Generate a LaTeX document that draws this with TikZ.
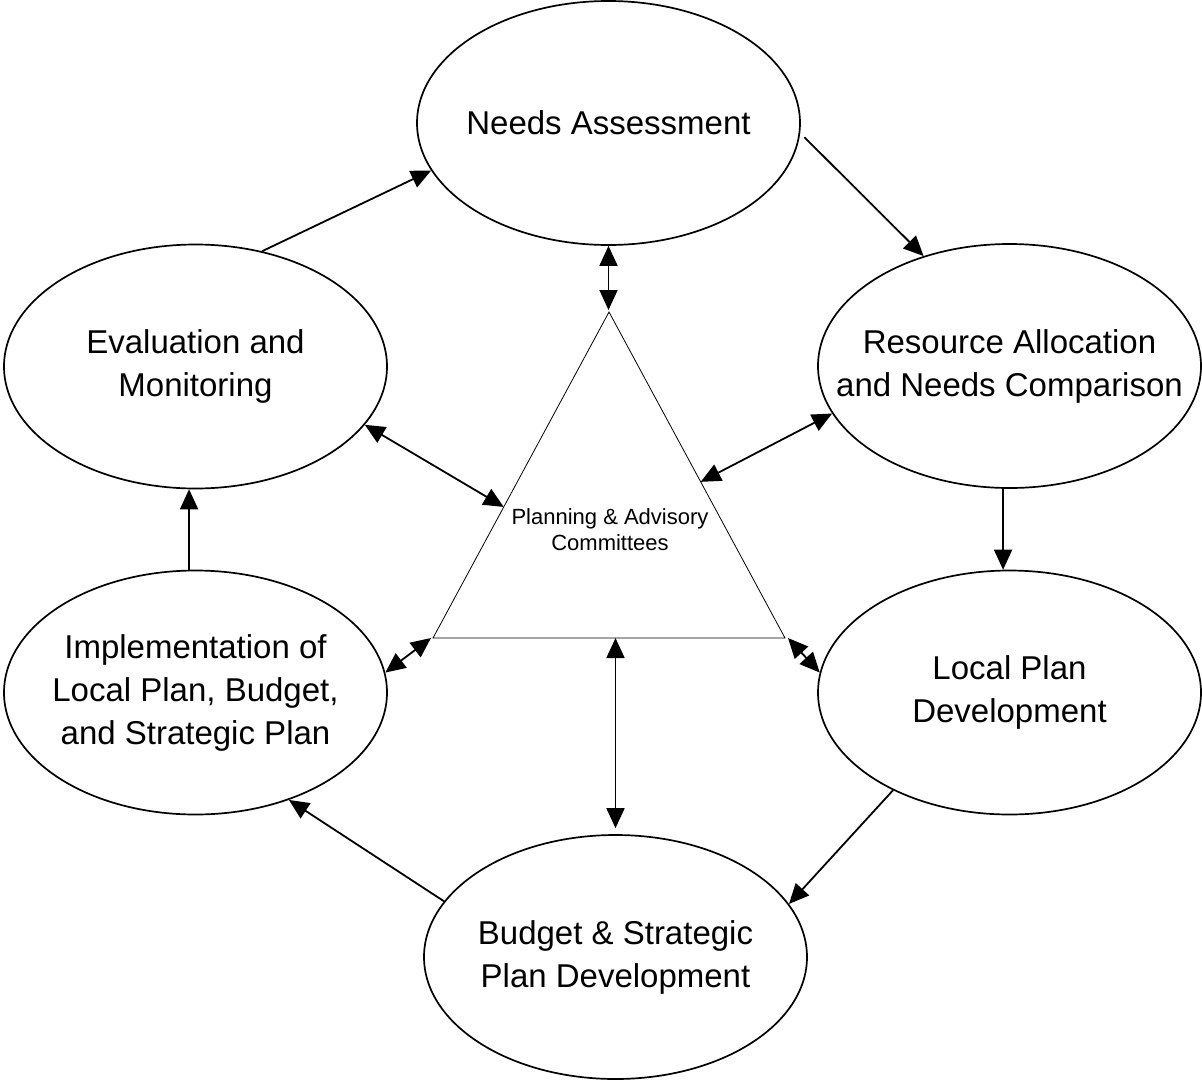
\documentclass[tikz,border=0pt]{standalone}
\usepackage{fontspec}
\setmainfont{Liberation Sans}
\usetikzlibrary{shapes.geometric,arrows.meta,calc}
\begin{document}
\begin{tikzpicture}[x=1pt,y=-1pt,
  stage/.style={ellipse, draw, line width=1.7pt, minimum width=383pt, minimum height=244pt,
    inner sep=0pt},
  stagetext/.style={align=center, inner sep=0pt, font=\fontsize{33}{43}\selectfont},
  flow/.style={line width=1.8pt, -{Triangle[length=20pt,width=18pt]}},
  link/.style={line width=1.8pt, {Triangle[length=20pt,width=18pt]}-{Triangle[length=20pt,width=18pt]}},
  committee/.style={line width=0.8pt}
]
\useasboundingbox (0,0) rectangle (1202,1082);

\node[stage, label={[stagetext]center:Needs Assessment}] (needs) at (608.5,123) {};
\node[stage, label={[stagetext]center:Evaluation and\\Monitoring}] (eval) at (195.5,366.5) {};
\node[stage, label={[stagetext]center:Resource Allocation\\and Needs Comparison}] (res) at (1009.5,366) {};
\node[stage, label={[stagetext]center:Implementation of\\Local Plan, Budget,\\and Strategic Plan}] (impl) at (195.5,692.5) {};
\node[stage, label={[stagetext]center:Local Plan\\Development}] (local) at (1009.5,692.5) {};
\node[stage, label={[stagetext]center:Budget \& Strategic\\Plan Development}] (budget) at (615.5,957) {};

\coordinate (apex) at (609,312);
\coordinate (bl) at (433,638);
\coordinate (br) at (785,638);
\draw[committee] (apex) -- (bl) -- (br) -- cycle;
\node[font=\fontsize{22}{26}\selectfont, align=center, inner sep=0pt] (pac) at (610,530) {Planning \& Advisory\\Committees};

% cycle
\draw[flow, shorten <=6pt] (needs.-3) -- (res.128.4);
\draw[flow] (res.-93) -- (local.93);
\draw[flow] (local.-140.2) -- (budget.17.4);
\draw[flow] (budget.162.6) -- (impl.-49.3);
\draw[flow] (impl.93) -- (eval.-93);
\draw[flow] (eval.60.6) -- (needs.-165.5);

% committee links
\draw[link, shorten >=2pt] (needs.south) -- (needs.south |- apex);
\draw[link] (eval.-19) -- ($(apex)!0.598!(bl)$);
\draw[link] (res.-165.5) -- ($(apex)!0.521!(br)$);
\draw[link] (impl.6.2) -- ([xshift=-2pt]bl);
\draw[link] ([xshift=3pt]br) -- (local.174.1);
\draw[link, shorten >=6pt] (budget.north |- bl) -- (budget.north);
\end{tikzpicture}
\end{document}
